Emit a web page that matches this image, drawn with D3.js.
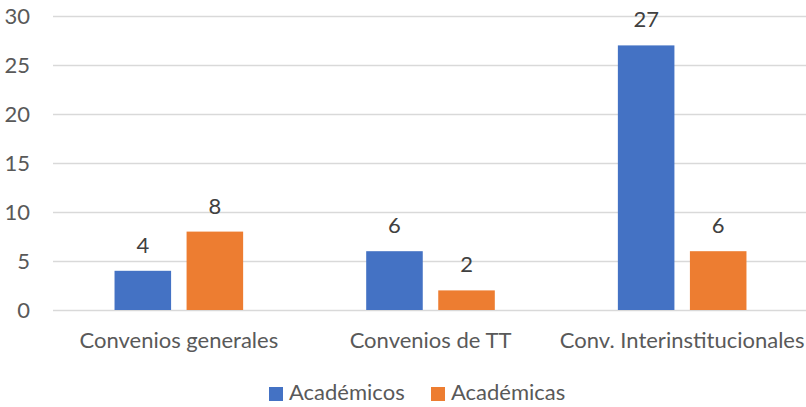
<!DOCTYPE html>
<html lang="es">
  <head>
    <meta charset="utf-8" />
    <title>Convenios</title>
    <style>
      body { margin: 0; background: #fff; }
      text { font-family: Lato, "Open Sans", sans-serif; }
    </style>
  </head>
  <body>
    <div id="chart"></div>
    <script src="https://d3js.org/d3.v7.min.js"></script>
    <script>
      var categories = ["Convenios generales", "Convenios de TT", "Conv. Interinstitucionales"];
      var series = ["Académicos", "Académicas"];
      var academicos = [4, 6, 27];
      var academicas = [8, 2, 6];
      var yTicks = [0, 5, 10, 15, 20, 25, 30];
      var colors = ["#4472C4", "#ED7D31"];

      var width = 806, height = 407;
      var margin = { top: 16, right: -2, bottom: 97, left: 53 };

      var svg = d3.select("#chart")
        .append("svg")
        .attr("width", width)
        .attr("height", height);

      var x0 = d3.scaleBand()
        .domain(categories)
        .range([margin.left, width - margin.right])
        .padding(0);

      var x1 = d3.scaleBand()
        .domain(series)
        .range([0, x0.bandwidth()])
        .paddingInner(0.215)
        .paddingOuter(0.854);

      var y = d3.scaleLinear()
        .domain([0, 30])
        .range([height - margin.bottom, margin.top]);

      // gridlines
      svg.append("g")
        .selectAll("line")
        .data(yTicks)
        .enter()
        .append("line")
        .attr("x1", margin.left)
        .attr("x2", width - margin.right)
        .attr("y1", function (d) { return Math.round(y(d)) + 0.5; })
        .attr("y2", function (d) { return Math.round(y(d)) + 0.5; })
        .attr("stroke", "#D9D9D9")
        .attr("stroke-width", 1.3);

      // y axis labels
      var yAxis = d3.axisLeft(y).tickValues(yTicks).tickSize(0).tickPadding(0);
      var gy = svg.append("g")
        .attr("transform", "translate(30,0)")
        .call(yAxis);
      gy.select(".domain").remove();
      gy.selectAll("text")
        .attr("fill", "#595959")
        .style("font-size", "22px")
        .attr("dy", "0.36em");

      // bars
      var data = categories.map(function (c, i) {
        return [
          { cat: c, s: series[0], v: academicos[i], color: colors[0] },
          { cat: c, s: series[1], v: academicas[i], color: colors[1] }
        ];
      });

      var groups = svg.selectAll("g.group")
        .data(data)
        .enter()
        .append("g")
        .attr("class", "group");

      groups.selectAll("rect")
        .data(function (d) { return d; })
        .enter()
        .append("rect")
        .attr("x", function (d) { return x0(d.cat) + x1(d.s); })
        .attr("y", function (d) { return y(d.v); })
        .attr("width", x1.bandwidth())
        .attr("height", function (d) { return y(0) - y(d.v); })
        .attr("fill", function (d) { return d.color; });

      // data labels
      groups.selectAll("text")
        .data(function (d) { return d; })
        .enter()
        .append("text")
        .attr("x", function (d) { return x0(d.cat) + x1(d.s) + x1.bandwidth() / 2; })
        .attr("y", function (d) { return y(d.v) - 18; })
        .attr("text-anchor", "middle")
        .attr("fill", "#404040")
        .style("font-size", "22px")
        .text(function (d) { return d.v; });

      // x axis labels
      var xAxis = d3.axisBottom(x0).tickSize(0).tickPadding(0);
      var gx = svg.append("g")
        .attr("transform", "translate(0," + (height - margin.bottom) + ")")
        .call(xAxis);
      gx.select(".domain").remove();
      gx.selectAll("text")
        .attr("fill", "#595959")
        .attr("y", 38)
        .attr("dy", 0)
        .style("font-size", "22px");

      // legend
      var legendX = [269, 431];
      var legend = svg.selectAll(".legend")
        .data(series)
        .enter()
        .append("g")
        .attr("class", "legend")
        .attr("transform", function (d, i) { return "translate(" + legendX[i] + ",387)"; });

      legend.append("rect")
        .attr("width", 14)
        .attr("height", 14)
        .attr("fill", function (d, i) { return colors[i]; });

      legend.append("text")
        .attr("x", 20)
        .attr("y", 13)
        .attr("fill", "#595959")
        .style("font-size", "22px")
        .text(function (d) { return d; });
    </script>
  </body>
</html>
